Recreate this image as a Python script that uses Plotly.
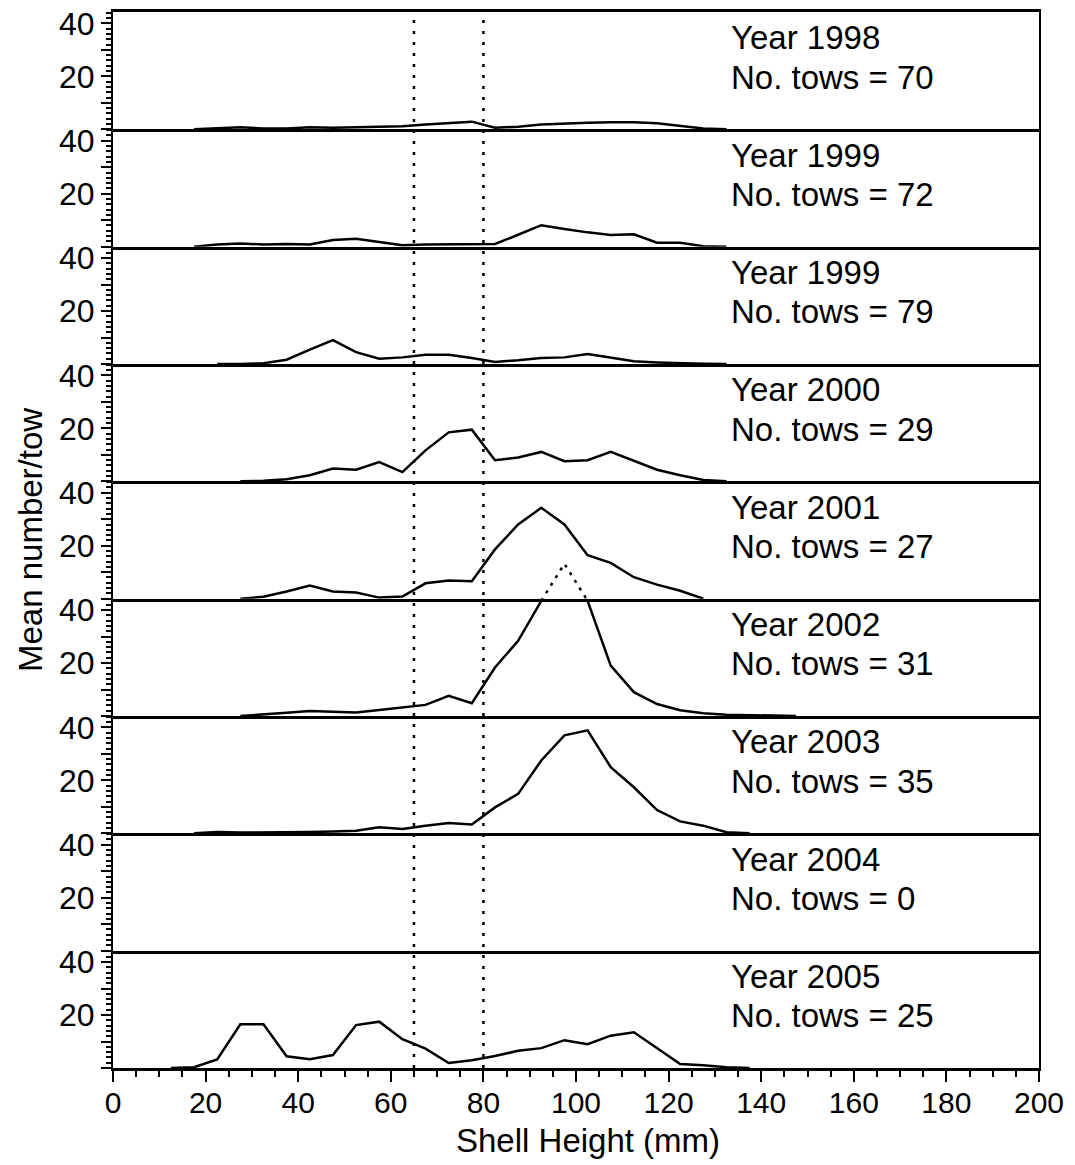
import plotly.graph_objects as go
from plotly.subplots import make_subplots

# Shell-height bin midpoints (mm)
shell_height = [12.5, 17.5, 22.5, 27.5, 32.5, 37.5, 42.5, 47.5, 52.5, 57.5,
                62.5, 67.5, 72.5, 77.5, 82.5, 87.5, 92.5, 97.5, 102.5, 107.5,
                112.5, 117.5, 122.5, 127.5, 132.5, 137.5, 142.5, 147.5]

panel_years = ["Year 1998", "Year 1999", "Year 1999", "Year 2000", "Year 2001",
               "Year 2002", "Year 2003", "Year 2004", "Year 2005"]
panel_tows = [70, 72, 79, 29, 27, 31, 35, 0, 25]

# Mean number per tow in each size bin (None = no catch recorded for that bin)
n_1998 = [None, 0.0, 0.5, 0.8, 0.3, 0.3, 0.8, 0.6, 0.8, 1.0,
          1.2, 1.8, 2.4, 2.9, 0.6, 1.0, 1.8, 2.2, 2.5, 2.7,
          2.7, 2.3, 1.3, 0.3, 0.0, None, None, None]
n_1999a = [None, 0.0, 0.8, 1.2, 0.8, 1.0, 0.8, 2.5, 3.0, 1.8,
           0.5, 0.8, 0.8, 0.8, 1.0, 4.5, 8.1, 6.7, 5.4, 4.4,
           4.7, 1.5, 1.5, 0.2, 0.0, None, None, None]
n_1999b = [None, None, 0.0, 0.0, 0.3, 1.6, 5.4, 9.0, 4.5, 2.0,
           2.5, 3.5, 3.5, 2.3, 0.8, 1.4, 2.3, 2.5, 3.8, 2.5,
           1.0, 0.6, 0.3, 0.1, 0.0, None, None, None]
n_2000 = [None, None, None, 0.0, 0.2, 0.8, 2.3, 4.8, 4.4, 7.3,
          3.5, 11.7, 18.5, 19.5, 8.0, 9.0, 11.1, 7.6, 8.0, 11.1,
          7.7, 4.4, 2.3, 0.5, 0.0, None, None, None]
n_2001 = [None, None, None, 0.0, 0.7, 2.7, 5.0, 2.7, 2.3, 0.4,
          0.8, 5.8, 6.9, 6.6, 18.6, 28.0, 34.3, 28.0, 16.4, 13.5,
          8.1, 5.3, 3.0, 0.0, None, None, None, None]
n_2002 = [None, None, None, 0.0, 0.5, 1.2, 1.9, 1.5, 1.3, 2.3,
          3.3, 4.2, 7.6, 4.8, 18.3, 28.4, 43.5, 57.5, 43.5, 19.0,
          9.0, 4.5, 2.2, 1.0, 0.5, 0.3, 0.2, 0.0]
n_2003 = [None, 0.0, 0.5, 0.3, 0.3, 0.3, 0.5, 0.7, 1.0, 2.3,
          1.6, 2.9, 3.9, 3.3, 9.8, 14.9, 27.5, 37.0, 38.9, 25.0,
          17.4, 8.8, 4.5, 2.9, 0.4, 0.0, None, None]
n_2004 = []
n_2005 = [0.0, 0.3, 3.2, 16.5, 16.5, 4.4, 3.3, 4.9, 16.2, 17.5,
          10.9, 7.3, 1.9, 2.9, 4.5, 6.5, 7.5, 10.5, 9.0, 12.2,
          13.5, 7.5, 1.5, 1.0, 0.3, 0.0, None, None]

panel_series = [n_1998, n_1999a, n_1999b, n_2000, n_2001,
                n_2002, n_2003, n_2004, n_2005]

y_ticks = [0, 10, 20, 30, 40]
y_ticktext = ["", "", "20", "", "40"]
x_ticks = [0, 20, 40, 60, 80, 100, 120, 140, 160, 180, 200]
ref_lines_mm = [65, 80]

Y_MIN, Y_MAX = 0.0, 44.3
FONT = "Liberation Sans, Arial, sans-serif"
N = len(panel_series)

fig = make_subplots(rows=N, cols=1, shared_xaxes=True, vertical_spacing=0)

for i, series in enumerate(panel_series):
    if series:
        fig.add_trace(go.Scatter(x=shell_height, y=series, mode="lines",
                                 line=dict(color="black", width=2.5),
                                 connectgaps=False, showlegend=False,
                                 hoverinfo="skip"),
                      row=i + 1, col=1)

# 2002 values above the panel top continue dotted into the panel above
span = Y_MAX - Y_MIN
i02 = panel_years.index("Year 2002")
s02 = panel_series[i02]
over_x, over_y = [], []
for k, v in enumerate(s02):
    if v is None:
        continue
    prev_v = s02[k - 1] if k > 0 else None
    next_v = s02[k + 1] if k + 1 < len(s02) else None
    if v > Y_MAX or (prev_v is not None and prev_v > Y_MAX) or (next_v is not None and next_v > Y_MAX):
        over_x.append(shell_height[k])
        over_y.append(v - span)
fig.add_trace(go.Scatter(x=over_x, y=over_y, mode="lines",
                         line=dict(color="black", width=2.5, dash="3px,6px"),
                         showlegend=False, hoverinfo="skip"),
              row=i02, col=1)

# each panel's bottom axis line doubles as the border with the panel below
fig.update_xaxes(range=[0, 200], showline=True, linecolor="black", linewidth=2.5,
                 mirror=False, ticks="", showticklabels=False, showgrid=False,
                 zeroline=False, automargin=False)
fig.update_xaxes(row=1, col=1, mirror=True)
fig.update_xaxes(row=N, col=1, ticks="outside", tickmode="array", tickvals=x_ticks,
                 ticklen=11, tickwidth=2, tickcolor="black", showticklabels=True,
                 ticklabelstandoff=-5,
                 tickfont=dict(family=FONT, size=30, color="black"),
                 minor=dict(dtick=5, tick0=0, ticks="outside", ticklen=6,
                            tickwidth=1.5, tickcolor="black"))
fig.update_yaxes(range=[Y_MIN, Y_MAX], showline=True, linecolor="black", linewidth=2,
                 mirror=True, ticks="outside", tickmode="array", tickvals=y_ticks,
                 ticktext=y_ticktext, ticklen=10, tickwidth=2, tickcolor="black",
                 tickfont=dict(family=FONT, size=32, color="black"),
                 showgrid=False, zeroline=False, automargin=False,
                 minor=dict(dtick=2, tick0=0, ticks="outside", ticklen=5,
                            tickwidth=1.5, tickcolor="black"))

shapes = []
for xv in ref_lines_mm:
    shapes.append(dict(type="line", xref="x", yref="paper", x0=xv, x1=xv, y0=0, y1=1,
                       line=dict(color="black", width=2.5, dash="3px,8px")))

annotations = []
for i in range(N):
    sfx = "" if i == 0 else str(i + 1)
    annotations.append(dict(xref="x" + sfx, yref="y" + sfx, x=133, y=34.5,
                            text=panel_years[i], showarrow=False, xanchor="left",
                            yanchor="middle",
                            font=dict(family=FONT, size=33, color="black")))
    annotations.append(dict(xref="x" + sfx, yref="y" + sfx, x=133, y=19.7,
                            text="No. tows = %d" % panel_tows[i], showarrow=False,
                            xanchor="left", yanchor="middle",
                            font=dict(family=FONT, size=33, color="black")))

annotations.append(dict(xref="paper", yref="paper", x=0.513, y=-0.069,
                        text="Shell Height (mm)", showarrow=False,
                        xanchor="center", yanchor="middle",
                        font=dict(family=FONT, size=33, color="black")))
annotations.append(dict(xref="paper", yref="paper", x=-0.0896, y=0.5,
                        text="Mean number/tow", showarrow=False, textangle=-90,
                        xanchor="center", yanchor="middle",
                        font=dict(family=FONT, size=33, color="black")))

fig.update_layout(width=1075, height=1165, autosize=False,
                  margin=dict(l=113, r=36, t=12, b=97),
                  paper_bgcolor="white", plot_bgcolor="rgba(0,0,0,0)",
                  shapes=shapes, annotations=annotations, showlegend=False)

fig.write_html("out.html")
